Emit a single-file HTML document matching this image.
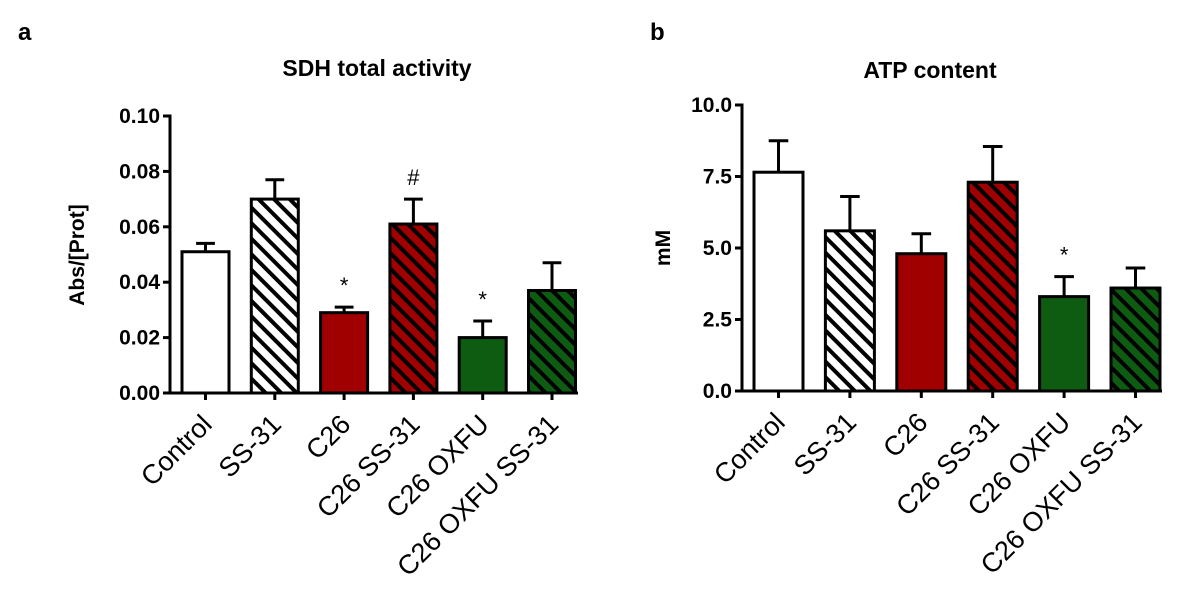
<!DOCTYPE html>
<html><head><meta charset="utf-8"><style>
body{margin:0;background:#fff;}
svg{display:block;font-family:"Liberation Sans",Arial,sans-serif;}
</style></head><body>
<svg width="1200" height="600">
<defs>
<pattern id="hw" width="11" height="11" patternUnits="userSpaceOnUse" patternTransform="rotate(45)"><rect width="11" height="11" fill="#fff"/><rect width="11" height="4" fill="#000"/></pattern>
<pattern id="hr" width="11" height="11" patternUnits="userSpaceOnUse" patternTransform="rotate(45)"><rect width="11" height="11" fill="#a00000"/><rect width="11" height="4" fill="#000"/></pattern>
<pattern id="hg" width="11" height="11" patternUnits="userSpaceOnUse" patternTransform="rotate(45)"><rect width="11" height="11" fill="#0e5c12"/><rect width="11" height="4" fill="#000"/></pattern>
</defs>
<g id="root"></g>
</svg>
<script>
const categories=["Control","SS-31","C26","C26 SS-31","C26 OXFU","C26 OXFU SS-31"];
const fills=["#fff","url(#hw)","#a00000","url(#hr)","#0e5c12","url(#hg)"];
const sdhValues=[0.051,0.070,0.029,0.061,0.020,0.037];
const sdhErrors=[0.003,0.007,0.002,0.009,0.006,0.010];
const sdhMarks=["","","*","#","*",""];
const sdhTicks=["0.00","0.02","0.04","0.06","0.08","0.10"];
const atpValues=[7.65,5.6,4.8,7.3,3.3,3.6];
const atpErrors=[1.1,1.2,0.7,1.25,0.7,0.7];
const atpMarks=["","","","","*",""];
const atpTicks=["0.0","2.5","5.0","7.5","10.0"];
const NS="http://www.w3.org/2000/svg";
const root=document.getElementById('root');
function mk(t,a,p){const e=document.createElementNS(NS,t);for(const k in a)e.setAttribute(k,a[k]);(p||root).appendChild(e);return e;}
function panel(o){
  const g=mk('g',{});
  
  
  const max=parseFloat(o.ticks[o.ticks.length-1]);
  const y=v=>o.y0-(v/max)*(o.y0-o.yTop);
  const x=i=>o.x0+o.first+i*o.step;
  o.ticks.forEach(t=>{const v=parseFloat(t);
    const l=mk('line',{x1:o.ax-7,x2:o.ax,y1:y(v),y2:y(v),stroke:'#000','stroke-width':3},g);
    
    const tx=mk('text',{x:o.ax-10,y:y(v)+7,'text-anchor':'end','font-size':21,'font-weight':'bold'},g);tx.textContent=t;
    });
  o.vals.forEach((v,i)=>{const cx=x(i),w=o.bw;
    const top=y(v+o.errs[i]);
    const el=mk('line',{x1:cx,x2:cx,y1:y(v),y2:top,stroke:'#000','stroke-width':3},g);
    
    const ec=mk('line',{x1:cx-w*0.2,x2:cx+w*0.2,y1:top,y2:top,stroke:'#000','stroke-width':3},g);
    
    const r=mk('rect',{x:cx-w/2,y:y(v),width:w,height:o.y0-y(v),fill:fills[i],stroke:'#000','stroke-width':3},g);
    
    if(o.marks[i]){const m=mk('text',{x:cx,y:top-14,'text-anchor':'middle','font-size':22},g);m.textContent=o.marks[i];
      }
    const tk=mk('line',{x1:cx,x2:cx,y1:o.y0,y2:o.y0+7,stroke:'#000','stroke-width':3},g);
    
    const lx=cx+8,ly=o.y0+33;
    const lb=mk('text',{x:lx,y:ly,'text-anchor':'end','font-size':27,transform:`rotate(-45 ${lx} ${ly})`},g);lb.textContent=categories[i];
    
  });
  const ya=mk('line',{x1:o.ax,x2:o.ax,y1:o.yTop-1.5,y2:o.y0+1.5,stroke:'#000','stroke-width':3},g);
  
  const xa=mk('line',{x1:o.ax,x2:o.xEnd,y1:o.y0,y2:o.y0,stroke:'#000','stroke-width':3},g);
  
  const ti=mk('text',{x:o.tx,y:o.ty,'text-anchor':'middle','font-size':23,'font-weight':'bold'},g);ti.textContent=o.title;
  
  const yt=mk('text',{x:o.ytx,y:o.yty,'text-anchor':'middle','font-size':21,'font-weight':'bold',transform:`rotate(-90 ${o.ytx} ${o.yty})`},g);yt.textContent=o.ylabel;
  
  const pl=mk('text',{x:o.px,y:40,'font-size':24,'font-weight':'bold'},g);pl.textContent=o.letter;
  
}
panel({name:'sdh-chart',vals:sdhValues,errs:sdhErrors,marks:sdhMarks,ticks:sdhTicks,ax:170,x0:170,first:35.5,step:69.3,bw:47,y0:393,yTop:116,xEnd:578,title:'SDH total activity',tx:377,ty:76,ylabel:'Abs/[Prot]',ytx:84,yty:255,letter:'a',px:18});
panel({name:'atp-chart',vals:atpValues,errs:atpErrors,marks:atpMarks,ticks:atpTicks,ax:742,x0:742,first:36.5,step:71.4,bw:49,y0:391,yTop:105,xEnd:1162,title:'ATP content',tx:930,ty:78,ylabel:'mM',ytx:670,yty:248,letter:'b',px:650});
</script>
</body></html>
